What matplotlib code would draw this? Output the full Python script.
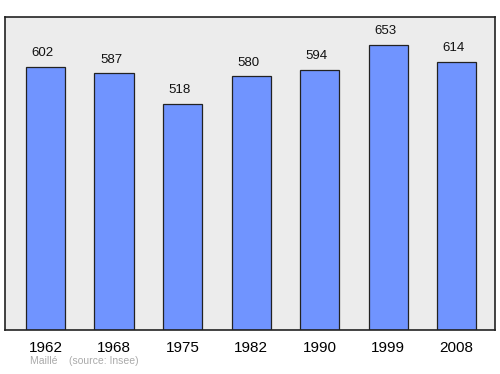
import matplotlib
matplotlib.use("Agg")
import matplotlib.pyplot as plt

years = ["1962", "1968", "1975", "1982", "1990", "1999", "2008"]
population = [602, 587, 518, 580, 594, 653, 614]

plt.rcParams['font.family'] = ['Liberation Sans', 'DejaVu Sans']

fig = plt.figure(figsize=(5, 3.74), dpi=100)
ax = fig.add_axes([0.01, 0.1176, 0.98, 0.837])
ax.set_facecolor('#ececec')
x = list(range(len(years)))
ax.bar(x, population, width=0.57, color='#7094ff', edgecolor='#222222', linewidth=0.9, zorder=2)
for xi, v in zip(x, population):
    ax.text(xi - 0.04, v + 18, str(v), ha='center', va='bottom', fontsize=9.5, color='#111111')
ax.set_xlim(-0.591, 6.56)
ax.set_ylim(0, 716)
ax.set_xticks(x)
ax.set_xticklabels(years, fontsize=11)
ax.tick_params(axis='x', length=0, pad=8)
ax.set_yticks([])
for s in ax.spines.values():
    s.set_color('#222222')
    s.set_linewidth(1.2)
fig.text(0.06, 0.027, "Maillé    (source: Insee)", fontsize=7.5, color='#aaaaaa')
fig.savefig("out.png", dpi=100)
